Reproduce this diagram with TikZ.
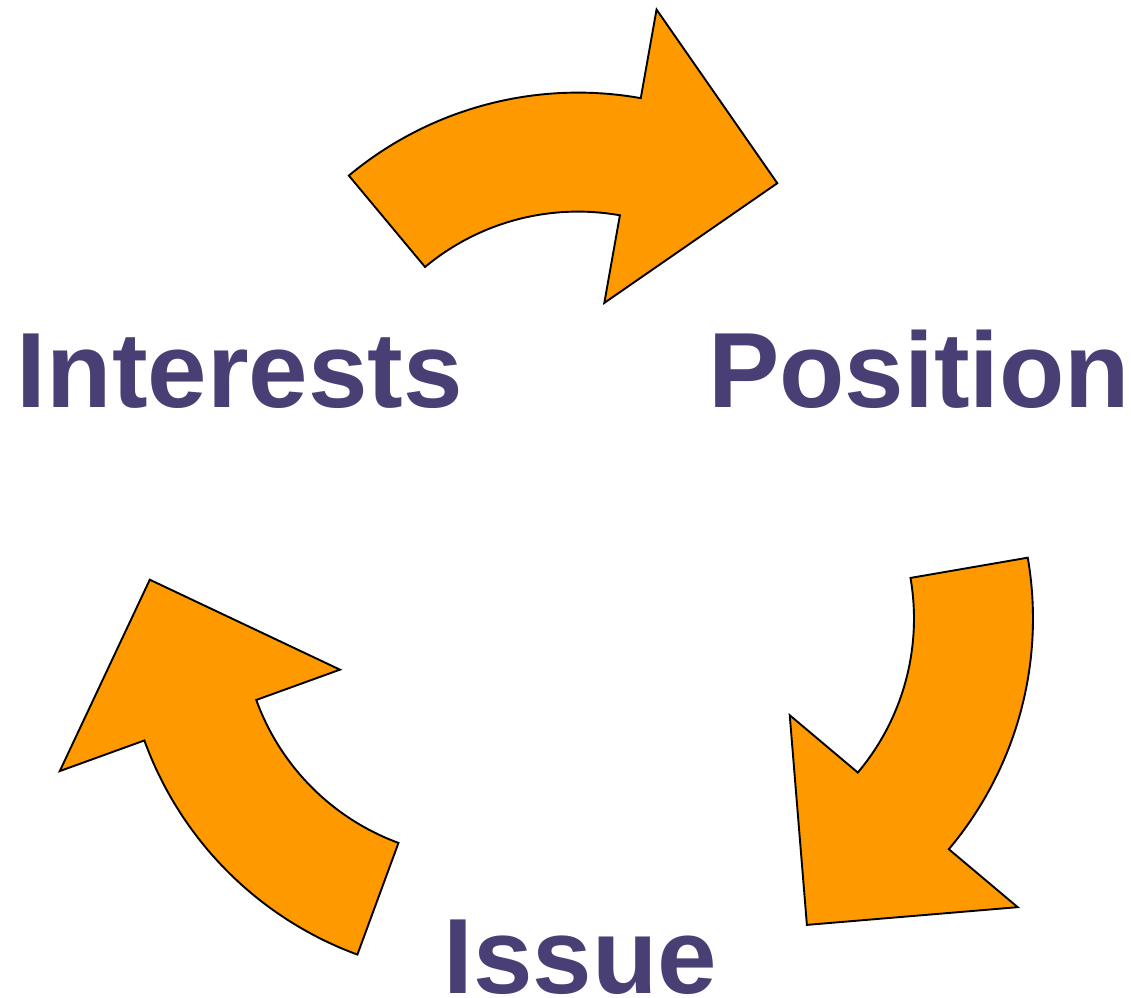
\documentclass[tikz,border=0pt]{standalone}
\usepackage{fontspec}
\setmainfont{Liberation Sans}
\definecolor{arroworange}{HTML}{FF9900}
\definecolor{labelpurple}{HTML}{4A3F75}
\begin{document}
\begin{tikzpicture}[x=1pt,y=1pt,
  cyclearrow/.style={fill=arroworange, draw=black, line width=1.9pt, line join=miter, miter limit=10},
  cyclelabel/.style={text=labelpurple, font=\bfseries\fontsize{107}{107}\selectfont, inner sep=0pt, anchor=base}]
\useasboundingbox (-578,-434.4) rectangle (553,562.6);
% three identical curved arrows, each turned by 120 degrees about the middle
\foreach \r in {0,-120,-240}{
  \begin{scope}[shift={({90+\r}:112)}]
    \draw[cyclearrow]
      ({129.8+\r}:358) arc[start angle={129.8+\r}, end angle={79.9+\r}, radius=358]
      -- ({79.9+\r}:448) -- ({53.3+\r}:333.5) -- ({79.9+\r}:150) -- ({79.9+\r}:239)
      arc[start angle={79.9+\r}, end angle={129.8+\r}, radius=239] -- cycle;
  \end{scope}
}
\node[cyclelabel] (interests) at (-338,155.3) {Interests};
\node[cyclelabel] (position) at (341.2,155.3) {Position};
\node[cyclelabel] (issue) at (2.5,-431.2) {Issue};
\end{tikzpicture}
\end{document}
